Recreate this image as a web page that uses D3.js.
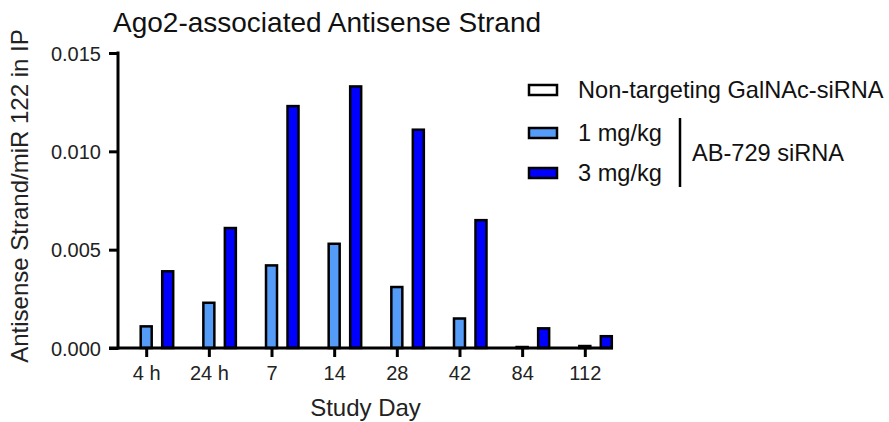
<!DOCTYPE html>
<html><head><meta charset="utf-8">
<script src="https://cdn.jsdelivr.net/npm/d3@7"></script>
<style>body{margin:0;background:#fff}svg{display:block;font-family:"Liberation Sans",Arial,sans-serif}</style>
</head><body><svg id="c" width="889" height="422"></svg>
<script>
const categories = ["4 h","24 h","7","14","28","42","84","112"];
const seriesNames = ["Non-targeting GalNAc-siRNA","1 mg/kg","3 mg/kg"];
const nonTargeting = [0,0,0,0,0,0,0,0];
const dose1 = [0.0011,0.0023,0.0042,0.0053,0.0031,0.0015,0.00005,0.0001];
const dose3 = [0.0039,0.0061,0.0123,0.0133,0.0111,0.0065,0.0010,0.0006];
const yTicks = [0,0.005,0.010,0.015];
const colors = ["#ffffff","#559cf8","#0000ff"];

const svg = d3.select("#c");
const x0 = 118, x1 = 613, yTop = 53, yBot = 348;
const x = d3.scalePoint().domain(categories).range([x0,x1]).padding(0.45);
const y = d3.scaleLinear().domain([0,0.015]).range([yBot,yTop]);
const series = [nonTargeting,dose1,dose3];
const offsets = [-21.5,0,21.5];
const bw = 11;

const g = svg.append("g");
series.forEach((vals,si)=>{
  g.selectAll(".b"+si).data(vals).enter().append("rect")
    .attr("x",(d,i)=>x(categories[i])+offsets[si]-bw/2)
    .attr("y",d=>y(d))
    .attr("width",bw)
    .attr("height",d=>yBot-y(d))
    .attr("fill",colors[si]).attr("stroke","#000").attr("stroke-width",2.5);
});

// axes
const ya = svg.append("g").attr("transform",`translate(${x0},0)`)
  .call(d3.axisLeft(y).tickValues(yTicks).tickFormat(d3.format(".3f")).tickSize(9).tickPadding(8));
const xa = svg.append("g").attr("transform",`translate(0,${yBot})`)
  .call(d3.axisBottom(x).tickSize(9).tickPadding(9));
[ya,xa].forEach(a=>{
  a.select(".domain").remove();
  a.selectAll("line").attr("stroke","#000").attr("stroke-width",3);
  a.selectAll("text").attr("font-size",20).attr("fill","#222").attr("font-family","Liberation Sans, Arial, sans-serif");
});
ya.selectAll("text").attr("dy","0.36em");
xa.selectAll("text").attr("dy","0.7em");
svg.append("line").attr("x1",x0).attr("x2",x0).attr("y1",yTop-1.5).attr("y2",yBot+1.5).attr("stroke","#000").attr("stroke-width",3);
svg.append("line").attr("x1",x0-9).attr("x2",x1).attr("y1",yBot).attr("y2",yBot).attr("stroke","#000").attr("stroke-width",3);

// titles
svg.append("text").attr("x",113).attr("y",32).attr("font-size",28).attr("fill","#111").text("Ago2-associated Antisense Strand");
svg.append("text").attr("transform",`translate(28,196) rotate(-90)`).attr("text-anchor","middle")
  .attr("font-size",24).attr("fill","#222").text("Antisense Strand/miR 122 in IP");
svg.append("text").attr("x",(x0+x1)/2).attr("y",416).attr("text-anchor","middle").attr("font-size",24).attr("fill","#222").text("Study Day");

// legend
const ly = [90,133,173];
seriesNames.forEach((n,i)=>{
  svg.append("rect").attr("x",529).attr("y",ly[i]-5).attr("width",28).attr("height",10)
    .attr("fill",colors[i]).attr("stroke","#000").attr("stroke-width",2.5);
  svg.append("text").attr("x",578).attr("y",ly[i]+8).attr("font-size",23.6).attr("fill","#111").text(n);
});
svg.append("line").attr("x1",680).attr("x2",680).attr("y1",118).attr("y2",187).attr("stroke","#000").attr("stroke-width",2.5);
svg.append("text").attr("x",692).attr("y",161).attr("font-size",23.6).attr("fill","#111").text("AB-729 siRNA");
</script></body></html>
